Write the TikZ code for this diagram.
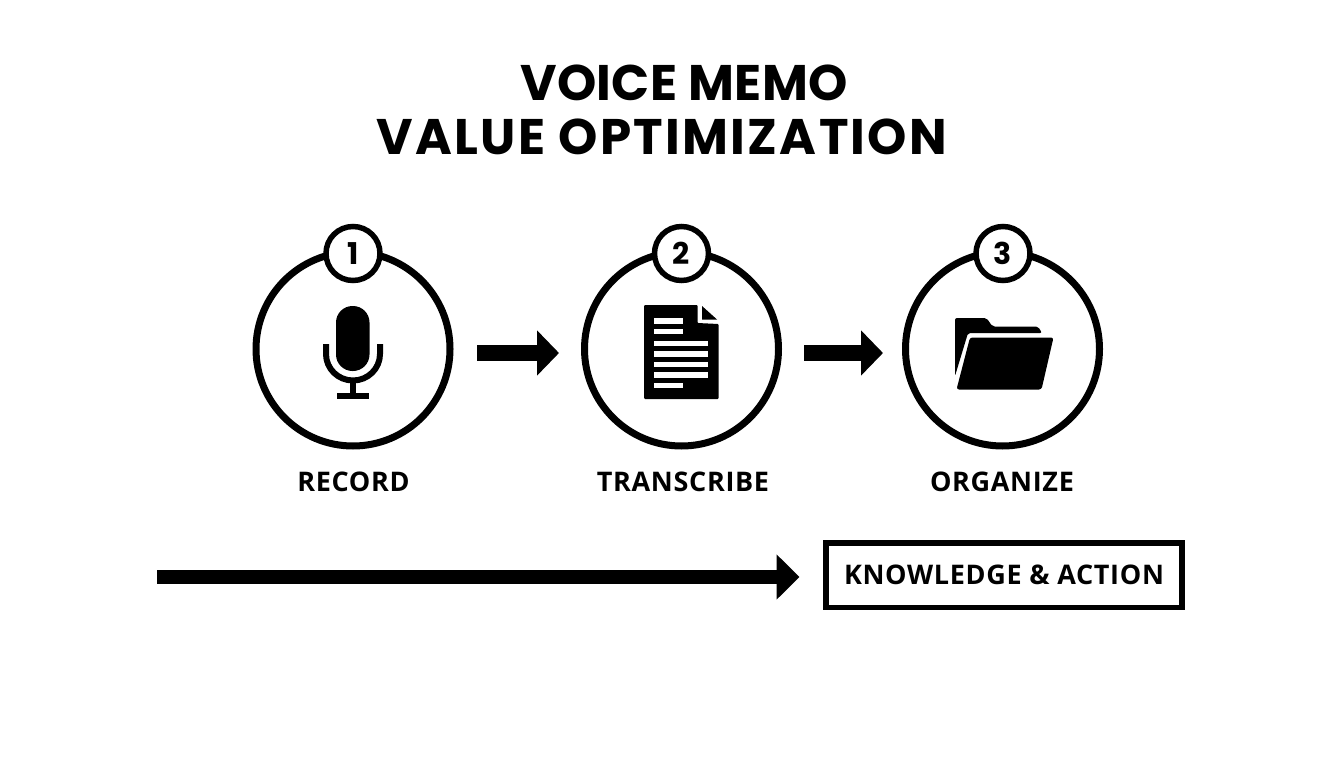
\documentclass[tikz,border=0pt]{standalone}
\usepackage{fontspec}
\setmainfont{Open Sans}[LetterSpace=2.5]
\newfontfamily\titlefont{Poppins}
\newfontfamily\titlewidefont{Poppins}[LetterSpace=4.6]
\newfontfamily\titlenarrowfont{Poppins}[LetterSpace=0.7]
\usetikzlibrary{arrows.meta}

\begin{document}
\begin{tikzpicture}[x=1pt, y=-1pt]

\tikzstyle{stepring}=[circle, draw, line width=7pt, minimum size=194pt, inner sep=0pt]
\tikzstyle{badge}=[circle, draw, fill=white, line width=5.5pt, minimum size=54pt, inner sep=0pt, font=\titlefont\bfseries\fontsize{30}{30}\selectfont]
\tikzstyle{steplabel}=[anchor=base, inner sep=0pt, font=\bfseries\fontsize{27}{27}\selectfont]
\tikzstyle{titleline}=[anchor=base, inner sep=0pt]
\tikzstyle{flow}=[line width=15.5pt, -{Triangle[length=22pt, width=44pt]}]
\tikzstyle{longflow}=[line width=14pt, -{Triangle[length=23pt, width=44pt]}]
\tikzstyle{resultbox}=[draw, line width=5.5pt, minimum width=356pt, minimum height=64.5pt, inner sep=0pt, text height=19.5pt, text depth=0pt]

\useasboundingbox (0,0) rectangle (1344,768);

\node[titleline, font=\titlenarrowfont\bfseries\fontsize{50}{50}\selectfont] (titletop) at (684,100) {VOICE MEMO};
\node[titleline, font=\titlewidefont\bfseries\fontsize{50}{50}\selectfont] (titlebottom) at (662,154) {VALUE OPTIMIZATION};

\node[stepring] (record) at (353,349) {};
\node[stepring] (transcribe) at (681.5,349) {};
\node[stepring] (organize) at (1002.5,349) {};

\node[badge] (one) at (353,253.5) {1};
\node[badge] (two) at (681.5,253.5) {2};
\node[badge] (three) at (1003,253.5) {3};

\node[steplabel] (recordlabel) at (353.5,491) {RECORD};
\node[steplabel] (transcribelabel) at (683,491) {TRANSCRIBE};
\node[steplabel] (organizelabel) at (1002,491) {ORGANIZE};

\coordinate (flowa) at (477,353);
\coordinate (flowb) at (559,353);
\coordinate (flowc) at (804,353);
\coordinate (flowd) at (883,353);
\draw[flow] (flowa) -- (flowb);
\draw[flow] (flowc) -- (flowd);

\node[resultbox, font=\bfseries\fontsize{27}{27}\selectfont] (result) at (1004,575) {KNOWLEDGE \& ACTION};
\coordinate (longstart) at (157,577);
\coordinate (longend) at (799.5,577);
\draw[longflow] (longstart) -- (longend);

% microphone
\fill[rounded corners=16.5pt] (336,306) rectangle (369.5,371);
\draw[line width=6pt] (326,344) -- (326,354) arc[start angle=180, end angle=0, x radius=27, y radius=26.5] -- (380,344);
\draw[line width=6pt] (353,380) -- (353,396);
\draw[line width=6pt] (337,396) -- (369,396);

% document
\fill[rounded corners=1pt] (644,305) -- (697.5,305) -- (697.5,323) -- (718.5,324) -- (718.5,399) -- (644,399) -- cycle;
\fill (702,306) -- (717,319.5) -- (702,319.5) -- cycle;
\foreach \y in {321,331.3,385.7} \fill[white] (654,\y-2.6) rectangle (683.3,\y+2.6);
\foreach \y in {343.3,354,364.7,375} \fill[white] (654,\y-2.6) rectangle (708,\y+2.6);

% folder
\fill[rounded corners=2pt] (955,376) -- (955,318) -- (986.5,318) -- (992.5,326.5) -- (1038,326.5) -- (1042,333) -- (968,333) -- cycle;
\fill[rounded corners=2.5pt] (970,337.5) -- (1053.5,337.5) -- (1041.5,389.5) -- (956.5,389.5) -- cycle;

\end{tikzpicture}
\end{document}
